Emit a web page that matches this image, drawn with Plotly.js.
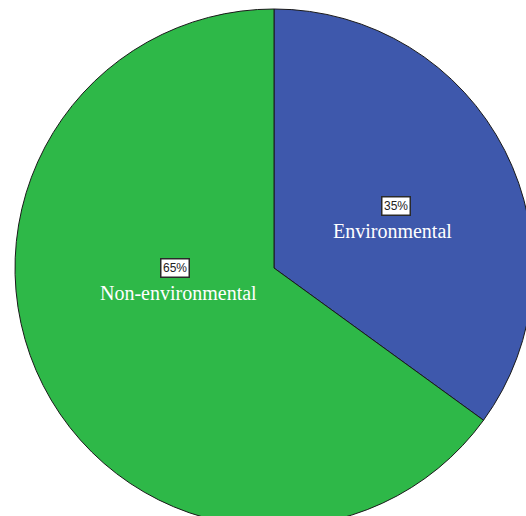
<!DOCTYPE html>
<html>
<head>
<meta charset="utf-8">
<script src="https://cdn.plot.ly/plotly-3.0.1.min.js"></script>
<style>
html,body{margin:0;padding:0;overflow:hidden;background:#fff;width:526px;height:516px;}
#chart{width:540px;height:530px;}
</style>
</head>
<body>
<div id="chart"></div>
<script>
const categories = ["Environmental", "Non-environmental"];
const values = [35, 65];
const percentLabels = ["35%", "65%"];
const colors = ["#3E58AC", "#2EB848"];

const W = 540, H = 530;
const cx = 274, cy = 268, r = 259;

// label anchor positions (pixels) for each slice
const labelPos = [[396, 206], [175, 268]];

const annotations = [];
categories.forEach((c, i) => {
  const [px, py] = labelPos[i];
  annotations.push({
    xref: "paper", yref: "paper",
    x: px / W, y: 1 - py / H,
    text: percentLabels[i], showarrow: false,
    font: {family: "Liberation Sans, Arial, sans-serif", size: 12, color: "#222"},
    bgcolor: "#ffffff", bordercolor: "#2a2a2a", borderwidth: 1.5, borderpad: 1.5,
    xanchor: "center", yanchor: "middle"
  });
  annotations.push({
    xref: "paper", yref: "paper",
    x: (px - 4 + (i === 0 ? 0 : 7)) / W, y: 1 - (py + 25) / H,
    text: c, showarrow: false,
    font: {family: "Liberation Serif, Times New Roman, serif", size: 20, color: "#ffffff"},
    xanchor: "center", yanchor: "middle"
  });
});

Plotly.newPlot("chart", [{
  type: "pie",
  labels: categories,
  values: values,
  sort: false,
  direction: "clockwise",
  rotation: 0,
  textinfo: "none",
  hoverinfo: "none",
  marker: {colors: colors, line: {color: "#1a1a1a", width: 1}},
  domain: {x: [(cx - r) / W, (cx + r) / W], y: [1 - (cy + r) / H, 1 - (cy - r) / H]},
  showlegend: false
}], {
  width: W, height: H,
  margin: {l: 0, r: 0, t: 0, b: 0},
  paper_bgcolor: "#ffffff",
  annotations: annotations,
  showlegend: false
}, {staticPlot: true, displayModeBar: false});
</script>
</body>
</html>
